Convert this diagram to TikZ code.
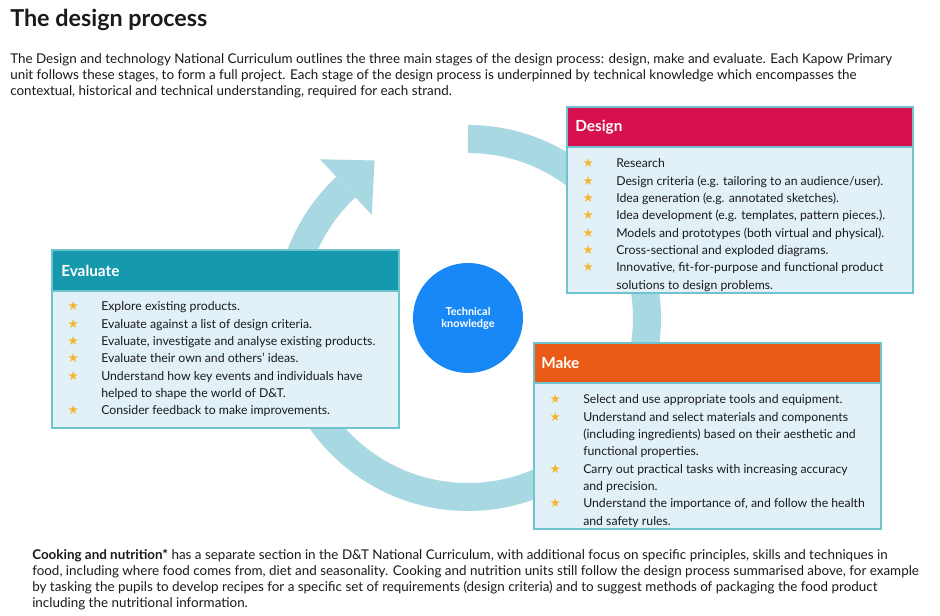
\documentclass[tikz,border=0pt]{standalone}
\usepackage{fontspec}
\setmainfont{Lato}
\newfontfamily\symfont{DejaVu Sans}
\usetikzlibrary{calc}
\definecolor{ringblue}{HTML}{A8D8E1}
\definecolor{hubblue}{HTML}{1788F5}
\definecolor{designred}{HTML}{D7104F}
\definecolor{evalteal}{HTML}{1699AD}
\definecolor{makeorange}{HTML}{EA5B17}
\definecolor{bodyfill}{HTML}{E1F1F7}
\definecolor{boxline}{HTML}{6EC3CF}
\definecolor{stargold}{HTML}{F4B630}
\definecolor{ink}{HTML}{1A1A1A}
\newcommand{\kstar}{\makebox[31.5pt]{\color{stargold}\symfont\fontsize{9.5}{10}\selectfont ★}}
\tikzset{
  boxbody/.style={fill=bodyfill, draw=boxline, line width=1.1pt},
  headtext/.style={anchor=west, inner sep=0pt, text=white, font=\fontsize{11.5}{13}\selectfont\bfseries},
  listtext/.style={anchor=base west, inner sep=0pt, text=ink, font=\fontsize{9.2}{13}\selectfont},
  plaintext/.style={anchor=base west, inner sep=0pt, text=ink, align=left}
}
\begin{document}
\begin{tikzpicture}[x=0.75pt, y=0.75pt]
  \useasboundingbox[fill=white] (0,0) rectangle (940,616);
  \coordinate (hub) at (468,298);
  \draw[ringblue, line width=21pt] ($(hub)+(90:179)$) arc[start angle=90, end angle=-227, radius=179];
  \fill[ringblue] ($(hub)+(133:217)$) -- ($(hub)+(133:141)$) -- ($(hub)+(133:179)+(43:39)$) -- cycle;
  \node[circle, fill=hubblue, minimum size=82.5pt, inner sep=0pt, text=white, align=center,
    font=\fontsize{8.2}{9}\selectfont\bfseries] (tech) at (hub) {Technical\\knowledge};
  \draw
    (10,589) node[plaintext, font=\fontsize{17.5}{20}\selectfont\bfseries] (title){The design process}
    (10,520) node[plaintext, font=\fontsize{10.07}{12}\selectfont] (intro){The Design and technology National Curriculum outlines the three main stages of the design process: design, make and evaluate. Each Kapow Primary\\
      unit follows these stages, to form a full project. Each stage of the design process is underpinned by technical knowledge which encompasses the\\
      contextual, historical and technical understanding, required for each strand.}
    (32,8) node[plaintext, font=\fontsize{10.07}{12}\selectfont] (cooking){\textbf{Cooking and nutrition*} has a separate section in the D\&T National Curriculum, with additional focus on specific principles, skills and techniques in\\
      food, including where food comes from, diet and seasonality. Cooking and nutrition units still follow the design process summarised above, for example\\
      by tasking the pupils to develop recipes for a specific set of requirements (design criteria) and to suggest methods of packaging the food product\\
      including the nutritional information.};
  \begin{scope}
    \fill[designred] (567,469) rectangle (913,509);
    \draw[boxbody] (567,323) rectangle (913,469);
    \draw[draw=boxline, line width=1.1pt] (567,323) rectangle (913,509);
    \fill[evalteal] (52,325) rectangle (399,366);
    \draw[boxbody] (52,188) rectangle (399,325);
    \draw[draw=boxline, line width=1.1pt] (52,188) rectangle (399,366);
    \fill[makeorange] (534,233) rectangle (881,273);
    \draw[boxbody] (534,87) rectangle (881,233);
    \draw[draw=boxline, line width=1.1pt] (534,87) rectangle (881,273);
  \end{scope}
  \draw
    (575,489) node[headtext] (designhead){Design}
    (61,345.5) node[headtext] (evalhead){Evaluate}
    (541,253) node[headtext] (makehead){Make};
  \draw (567,448) node[listtext] (designlist){%
    \begin{tabular}[t]{@{}c@{\hspace{5.25pt}}l@{}}
      \kstar & Research\\
      \kstar & Design criteria (e.g. tailoring to an audience/user).\\
      \kstar & Idea generation (e.g. annotated sketches).\\
      \kstar & Idea development (e.g. templates, pattern pieces.).\\
      \kstar & Models and prototypes (both virtual and physical).\\
      \kstar & Cross-sectional and exploded diagrams.\\
      \kstar & Innovative, fit-for-purpose and functional product\\
             & solutions to design problems.
    \end{tabular}};
  \draw (52,305) node[listtext] (evallist){%
    \begin{tabular}[t]{@{}c@{\hspace{5.25pt}}l@{}}
      \kstar & Explore existing products.\\
      \kstar & Evaluate against a list of design criteria.\\
      \kstar & Evaluate, investigate and analyse existing products.\\
      \kstar & Evaluate their own and others’ ideas.\\
      \kstar & Understand how key events and individuals have\\
             & helped to shape the world of D\&T.\\
      \kstar & Consider feedback to make improvements.
    \end{tabular}};
  \draw (534,212) node[listtext] (makelist){%
    \begin{tabular}[t]{@{}c@{\hspace{5.25pt}}l@{}}
      \kstar & Select and use appropriate tools and equipment.\\
      \kstar & Understand and select materials and components\\
             & (including ingredients) based on their aesthetic and\\
             & functional properties.\\
      \kstar & Carry out practical tasks with increasing accuracy\\
             & and precision.\\
      \kstar & Understand the importance of, and follow the health\\
             & and safety rules.
    \end{tabular}};
\end{tikzpicture}
\end{document}
